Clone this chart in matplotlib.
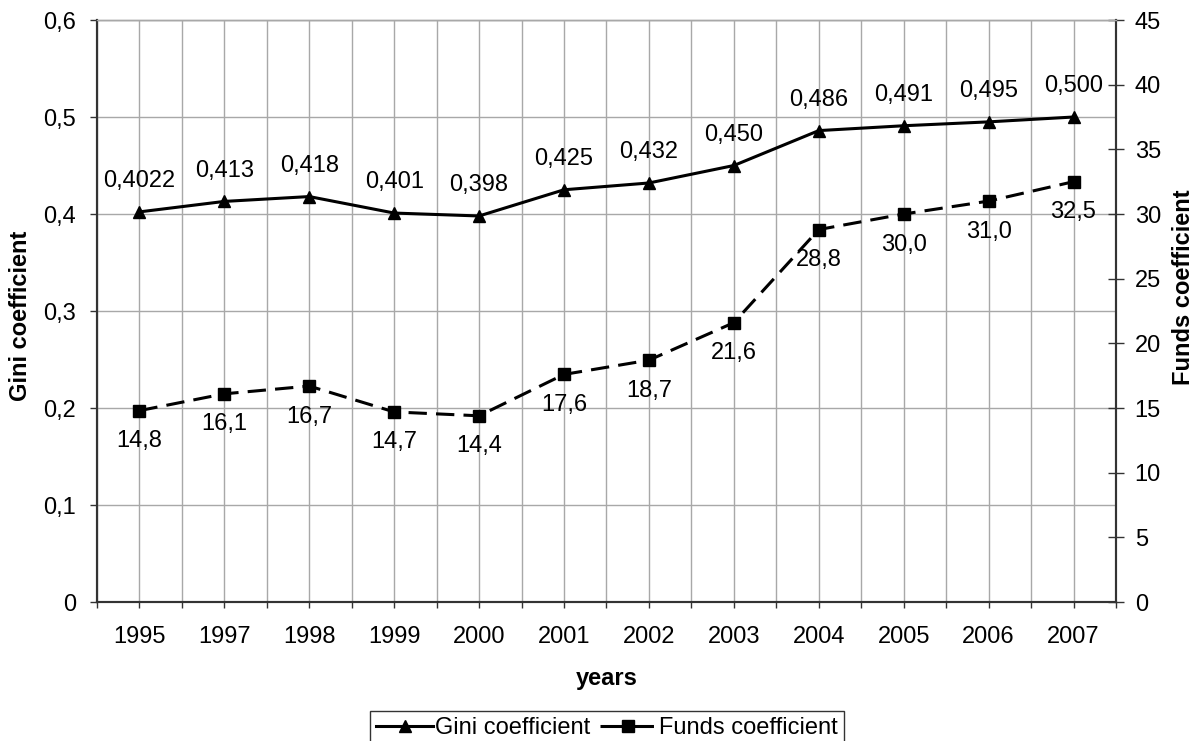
import matplotlib
matplotlib.use("Agg")
import matplotlib.pyplot as plt
from matplotlib.lines import Line2D
import numpy as np

plt.rcParams['font.family'] = ['Liberation Sans', 'DejaVu Sans']

# Datos
years = ['1995', '1997', '1998', '1999', '2000', '2001', '2002',
         '2003', '2004', '2005', '2006', '2007']
gini = [0.4022, 0.413, 0.418, 0.401, 0.398, 0.425, 0.432,
        0.450, 0.486, 0.491, 0.495, 0.500]
gini_decimals = [4, 3, 3, 3, 3, 3, 3, 3, 3, 3, 3, 3]
funds = [14.8, 16.1, 16.7, 14.7, 14.4, 17.6, 18.7,
         21.6, 28.8, 30.0, 31.0, 32.5]

left_ticks = [0, 0.1, 0.2, 0.3, 0.4, 0.5, 0.6]
right_ticks = [0, 5, 10, 15, 20, 25, 30, 35, 40, 45]

FS = 17
AX_COLOR = '#333333'
GRID_COLOR = '#a8a8a8'

fig = plt.figure(figsize=(11.97, 7.41), dpi=100)
ax = fig.add_axes([0.081, 0.1875, 0.8513, 0.7855])
ax2 = ax.twinx()

x = np.arange(len(years))

# Rejilla y ejes
ax.set_xlim(-0.5, len(years) - 0.5)
ax.set_ylim(0, 0.6)
ax2.set_ylim(0, 45)
ax.set_xticks(x)
ax.set_xticklabels(years, fontsize=FS)
ax.set_xticks(np.arange(-0.5, len(years), 1.0), minor=True)
ax.grid(True, which='both', axis='x', color=GRID_COLOR, lw=1.0)
ax.grid(True, which='major', axis='y', color=GRID_COLOR, lw=1.0)
ax.set_axisbelow(True)

ax.set_yticks(left_ticks)
ax.set_yticklabels(['0' if v == 0 else ('%.1f' % v).replace('.', ',') for v in left_ticks],
                   fontsize=FS)
ax2.set_yticks(right_ticks)
ax2.set_yticklabels([str(v) for v in right_ticks], fontsize=FS)

ax.tick_params(axis='x', which='both', direction='out', length=4, width=1,
               color=AX_COLOR, pad=13)
ax.tick_params(axis='y', direction='out', length=5, width=1, color=AX_COLOR, pad=10)
ax2.tick_params(axis='y', direction='inout', length=11, width=1, color=AX_COLOR, pad=8)

for a in (ax, ax2):
    a.spines['top'].set_color(GRID_COLOR)
    a.spines['top'].set_linewidth(1.0)
    for side in ('left', 'right', 'bottom'):
        a.spines[side].set_color(AX_COLOR)
        a.spines[side].set_linewidth(1.5)

# Series
l1, = ax.plot(x, gini, color='black', lw=2.2, marker='^', markersize=9,
              label='Gini coefficient', zorder=3)
ax2.plot(x, funds, color='black', lw=2.2, marker='s', markersize=8.5,
         dashes=(6, 3), zorder=3)
# muestra de la leyenda: trazo - cuadrado - trazo
l2 = Line2D([], [], color='black', lw=2.2, marker='s', markersize=8.5,
            dashes=(8, 1.5), label='Funds coefficient')

for xi, v, d in zip(x, gini, gini_decimals):
    ax.annotate(('%.*f' % (d, v)).replace('.', ','), (xi, v), xytext=(0, 22),
                textcoords='offset points', ha='center', va='center', fontsize=FS)
for xi, v in zip(x, funds):
    ax2.annotate(('%.1f' % v).replace('.', ','), (xi, v), xytext=(0, -22),
                 textcoords='offset points', ha='center', va='center', fontsize=FS)

# Etiquetas de ejes
fig.text(607 / 1197, 1 - 679 / 741, 'years', ha='center', va='center',
         fontsize=FS, fontweight='bold')
fig.text(21 / 1197, 1 - 316 / 741, 'Gini coefficient', ha='center', va='center',
         rotation=90, fontsize=FS, fontweight='bold')
fig.text(1184 / 1197, 1 - 287 / 741, 'Funds coefficient', ha='center', va='center',
         rotation=90, fontsize=FS, fontweight='bold')

leg = fig.legend(handles=[l1, l2], loc='upper center',
                 bbox_to_anchor=(607 / 1197, 1 - 711 / 741), ncol=2,
                 fontsize=FS, frameon=True, fancybox=False, handlelength=2.4,
                 handletextpad=0.1, columnspacing=0.4, borderpad=0.25,
                 borderaxespad=0)
leg.get_frame().set_edgecolor('black')
leg.get_frame().set_linewidth(1.0)

fig.savefig('out.png', dpi=100)
